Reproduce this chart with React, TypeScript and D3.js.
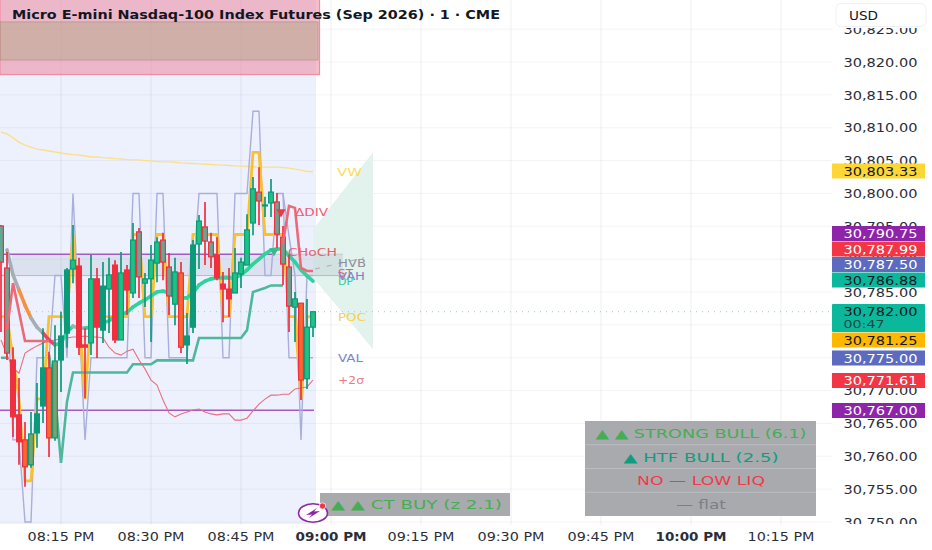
import React, { useEffect, useRef } from 'react';
import * as d3 from 'd3';

const width = 932;
const height = 550;
const FONT = '"DejaVu Sans", sans-serif';

// one bar per minute, first one at 08:05 PM
const firstBar = new Date(2026, 5, 1, 20, 5);
const axisStart = new Date(2026, 5, 1, 20, 15);
const axisEnd = new Date(2026, 5, 1, 22, 15);

const opens = [30795.05,30788.65,30774.65,30766.3,30762.5,30758.7,30763.55,30767.65,30773.45,30762.8,30774.65,30778.75,30788.5,30788.95,30776.95,30777.25,30787.0,30779.2,30785.45,30789.1,30777.7,30788.35,30784.85,30794.15,30786.35,30787.0,30789.4,30792.9,30788.8,30783.15,30787.9,30776.95,30779.65,30792.3,30794.9,30792.6,30790.65,30786.2,30785.45,30784.85,30787.75,30789.1,30795.5,30800.2,30798.1,30798.55,30798.7,30793.35,30788.8,30782.7,30783.3,30771.8,30779.65];
const highs = [30795.2,30791.1,30776.6,30771.9,30765.2,30766.75,30771.15,30779.5,30775.9,30779.95,30782.0,30788.65,30795.2,30790.2,30779.5,30790.65,30788.65,30789.55,30790.2,30789.85,30791.1,30789.1,30795.5,30794.75,30787.9,30792.15,30793.35,30794.0,30790.95,30790.2,30789.55,30781.8,30792.9,30796.7,30798.7,30794.0,30793.35,30788.05,30788.65,30791.7,30790.2,30796.85,30802.5,30804.0,30799.5,30802.2,30800.05,30795.05,30790.65,30785.0,30783.3,30783.95,30782.0];
const lows = [30778.9,30774.65,30762.95,30758.7,30755.35,30758.25,30761.3,30765.05,30759.9,30762.35,30769.8,30776.5,30786.35,30775.4,30768.85,30775.4,30774.95,30777.25,30778.75,30777.25,30777.7,30781.5,30784.1,30784.1,30782.7,30777.4,30786.5,30786.8,30781.5,30779.95,30775.7,30774.05,30778.75,30788.5,30789.1,30788.65,30786.8,30780.4,30781.2,30784.85,30785.6,30789.1,30793.65,30795.2,30796.4,30796.4,30791.7,30786.05,30778.9,30777.4,30768.55,30770.25,30778.15];
const closes = [30789.55,30775.7,30766.0,30762.2,30758.4,30763.4,30766.45,30773.45,30762.8,30774.5,30778.3,30788.35,30789.85,30776.6,30776.6,30787.0,30779.65,30785.9,30787.6,30777.7,30787.9,30785.3,30792.9,30787.3,30787.0,30789.85,30792.6,30789.55,30784.4,30788.05,30776.6,30778.3,30792.15,30795.8,30792.75,30790.35,30787.15,30785.45,30783.95,30787.9,30789.55,30794.45,30800.7,30798.85,30798.25,30800.2,30793.8,30789.25,30782.85,30783.95,30771.6,30779.65,30782.0];
// candle look per bar, overlapping studies tint many of them in the source
const barTones = ['mixed','mixed','bear','bear','orange','olive','bull','bull','orange','olive','bull','bull','lime','bear','bear','lime','bear','bull','lime','bear','lime','bear','lime','mixed','lime','lime','lime','mixed','mixed','lime','orange','bull','bull','lime','mixed','mixed','bear','bear','bear','lime','lime','lime','lime','mixed','lime','lime','mixed','mixed','mixed','lime','orange','lime','lime'];

const profileTrace = [30787.5,30787.5,30762.5,30762.5,30750,30750,30775,30775,30775,30787.5,30787.5,30775,30800,30781.25,30762.5,30775,30775,30775,30775,30775,30775,30775,30800,30800,30775,30775,30800,30800,30775,30775,30775,30775,30787.5,30800,30800,30800,30800,30775,30775,30800,30800,30800,30812.5,30812.5,30787.5,30787.5,30800,30800,30775,30775,30775,30775,30775];
const upperTail = [30800,30793.5,30787.5,30762.5,30787.5,30787.5];
const pocTrace = [30781.25,30781.25,30775,30768.75,30756.25,30756.25,30768.75,30768.75,30781.25,30781.25,30781.25,30781.25,30793.75,30781.25,30768.75,30781.25,30781.25,30781.25,30781.25,30781.25,30781.25,30781.25,30793.75,30793.75,30781.25,30781.25,30793.75,30793.75,30781.25,30781.25,30781.25,30781.25,30793.75,30793.75,30793.75,30793.75,30793.75,30781.25,30781.25,30793.75,30793.75,30793.75,30806.25,30806.25,30793.75,30793.75,30793.75,30793.75,30781.25,30781.25,30768.75,30781.25,30781.25];
const htfStep = [30775,30775,null,null,null,null,null,null,30775.5,30769.5,30759,30768.3,30772.75,30772.75,30772.75,30772.75,30772.75,30772.75,30772.75,30772.75,30772.75,30772.75,30774,30774,30774,30774,30774.6,30774.6,30774.6,30774.6,30774.6,30774.6,30774.6,30778,30778,30778,30778,30778,30778,30778,30778,30779.2,30785,30785.3,30785.6,30786,30786,30786,null,null,null,null,null];
const maTrace = [null,30791.4,30787.6,30785.3,30783.0,30781.05,30779.65,30778.75,30777.7,30776.95,30777.25,30778.9,30779.8,30779.5,30779.5,30779.65,30780.4,30780.3,30780.6,30781.35,30781.5,30781.95,30782.7,30783.3,30783.8,30784.4,30785,30785.15,30784.85,30784.1,30784.1,30784.1,30784.85,30786.05,30786.65,30787,30787.15,30787.15,30787.15,30787.15,30787.6,30788.35,30789.25,30790,30790.8,30791.4,30791.55,30791.55,30790.5,30789.55,30788.35,30787.45,30786.65];
const maRegime = ['flat','flat','flat','flat','warm','warm','flat','flat','hot','hot','up','up','up','flat','flat','up','up','up','up','up','up','up','up','up','up','up','up','up','up','up','up','up','up','up','up','up','up','up','up','up','up','up','up','up','up','up','up','up','up','up','up','up','up'];
const stTrace = [null,30779.2,30786.35,30782,30777.55,30777.55,30777.55,30777.55,30777.55,null,null,null,null,null,null,null,null,null,null,null,null,null,null,null,null,null,null,null,null,null,null,null,null,null,null,null,null,null,null,null,null,null,null,null,null,null,null,30792.45,30798.1,30797.8,30788.65,30788.2,30788.2];
const sigmaTrace = [30777.7,30775.4,30773.45,30772.65,30775.7,30776.3,30776.8,30777.25,30777.55,30777.7,30777.85,30778,30778.15,30778.15,30778.3,30778.15,30778.15,30778,30776.6,30775.7,30775.4,30776,30776.3,30774.65,30773.3,30771.6,30770.85,30768.55,30766.6,30766,30766.45,30766.75,30767.05,30767.2,30766.75,30766.45,30766.3,30766.45,30766.45,30765.5,30765.5,30765.8,30766.9,30767.95,30768.7,30769.3,30769.3,30769.45,30769.45,30770.25,30770.4,30770.55,30771.61];
const vwapTrace = [30809.35,30809.05,30808.45,30807.8,30807.35,30807.05,30806.75,30806.6,30806.45,30806.3,30806.15,30806,30805.9,30805.85,30805.7,30805.55,30805.55,30805.45,30805.4,30805.3,30805.25,30805.15,30805.1,30805.1,30805,30804.95,30804.85,30804.8,30804.8,30804.75,30804.65,30804.6,30804.55,30804.5,30804.45,30804.4,30804.35,30804.3,30804.25,30804.2,30804.15,30804.1,30804.05,30804,30804,30804,30804,30803.95,30803.85,30803.7,30803.55,30803.33,30803.33];

const priceTicks = d3.range(30750, 30830, 5);
const priceTags = [
  { value: 30803.33, fill: '#fdd835', color: '#131722', center: 171 },
  { value: 30790.75, fill: '#8e24aa', color: '#ffffff', center: 233.5 },
  { value: 30787.99, fill: '#f23645', color: '#ffffff', center: 249 },
  { value: 30787.5, fill: '#5c6bc0', color: '#ffffff', center: 264.5 },
  { value: 30786.88, fill: '#0bb89c', color: '#131722', center: 280 },
  { value: 30781.25, fill: '#ffb800', color: '#131722', center: 340 },
  { value: 30775, fill: '#5c6bc0', color: '#ffffff', center: 358 },
  { value: 30771.61, fill: '#f23645', color: '#ffffff', center: 380.5 },
  { value: 30767, fill: '#8e24aa', color: '#ffffff', center: 410.5 },
];
const lastPrice = 30782;
const countdown = '00:47';
const purpleLevels = [30790.75, 30767];

const studyLabels = [
  { text: 'VW', x: 337, y: 172, w: 25, color: '#fbdc5c' },
  { text: 'ΔDIV', x: 295, y: 212, w: 33, color: '#e8606f' },
  { text: 'CHoCH', x: 288, y: 252, w: 49, color: '#e8606f' },
  { text: 'HVB', x: 338, y: 263, w: 28, color: '#8c8f9a' },
  { text: 'ST', x: 338, y: 273, w: 15, color: '#e8606f' },
  { text: 'VAH', x: 338, y: 276, w: 27, color: '#7a84c8' },
  { text: 'DP', x: 338, y: 281, w: 15, color: '#3cc8a0' },
  { text: 'POC', x: 338, y: 317, w: 28, color: '#fbcf4a' },
  { text: 'VAL', x: 338, y: 358, w: 25, color: '#7a84c8' },
  { text: '+2σ', x: 338, y: 380, w: 26, color: '#ea7d88' },
];

const signalRows = [
  { text: '▲ ▲ STRONG BULL (6.1)', color: '#46ad55', w: 211 },
  { text: '▲ HTF BULL (2.5)', color: '#0f9d80', w: 155 },
  { text: 'NO — LOW LIQ', color: '#ef3a4c', w: 128 },
  { text: '— flat', color: '#7c7f88', w: 50 },
];
const ctRow = '▲ ▲ CT BUY (z 2.1)';

const toneStyle: Record<string, { fill: string; stroke: string }> = {
  bull: { fill: '#0b9a7a', stroke: '#0b9a7a' },
  lime: { fill: '#1fc284', stroke: '#0b9a7a' },
  bear: { fill: '#f0303f', stroke: '#f0303f' },
  orange: { fill: '#f36a30', stroke: '#f0303f' },
  olive: { fill: '#7fa06a', stroke: '#0b9a7a' },
  mixed: { fill: '#5fa996', stroke: '#f0303f' },
};
const regimeColor: Record<string, string> = {
  flat: '#a7adb5',
  warm: '#f5923e',
  hot: '#e8436a',
  up: '#2ed39b',
};

const TradingChart: React.FC = () => {
  const svgRef = useRef<SVGSVGElement>(null);

  useEffect(() => {
    if (!svgRef.current) return;
    const svg = d3.select(svgRef.current);
    svg.selectAll('*').remove();

    const x = d3.scaleTime().domain([axisStart, axisEnd]).range([61, 781]);
    const y = d3.scaleLinear().domain([30820, 30750]).range([62, 522]);
    const barTime = (i: number) => d3.timeMinute.offset(firstBar, i);
    const xi = (i: number) => x(barTime(i));
    const bars = d3.range(opens.length);
    const chartRight = 832;
    const chartBottom = 525;

    const lineOf = (vals: (number | null)[], startIdx = 0) =>
      d3.line<number | null>()
        .defined(d => d != null)
        .x((_, i) => xi(i + startIdx))
        .y(d => y(d as number))(vals);

    const defs = svg.append('defs');
    defs.append('clipPath').attr('id', 'priceClip').append('rect')
      .attr('x', 832).attr('y', 28).attr('width', 100).attr('height', 496);

    svg.append('rect').attr('width', width).attr('height', height).attr('fill', '#ffffff');

    // session shading sits under the grid
    svg.append('rect').attr('x', 0).attr('y', 0).attr('width', 316).attr('height', chartBottom - 1).attr('fill', '#edf1fd');

    // grid
    const gridColor = 'rgba(60,70,110,0.06)';
    x.ticks(d3.timeMinute.every(15) as d3.TimeInterval).forEach(t => {
      svg.append('line').attr('x1', x(t)).attr('x2', x(t)).attr('y1', 0).attr('y2', chartBottom)
        .attr('stroke', gridColor).attr('stroke-width', 1.5);
    });
    priceTicks.forEach(p => {
      svg.append('line').attr('x1', 0).attr('x2', chartRight).attr('y1', y(p)).attr('y2', y(p))
        .attr('stroke', gridColor).attr('stroke-width', 1);
    });

    // supply box at the top
    svg.append('rect').attr('x', 0).attr('y', -2).attr('width', 319.5).attr('height', 76.5)
      .attr('fill', 'rgba(238,130,155,0.52)').attr('stroke', '#f08ca2').attr('stroke-width', 1.2);
    svg.append('rect').attr('x', 0).attr('y', y(30826.1)).attr('width', 318).attr('height', y(30820.3) - y(30826.1))
      .attr('fill', 'rgba(170,165,125,0.42)').attr('stroke', 'rgba(150,120,110,0.6)').attr('stroke-width', 0.7);

    // forecast cone
    const coneStart = new Date(2026, 5, 1, 20, 57);
    const coneEnd = new Date(2026, 5, 1, 21, 7);
    svg.append('polygon')
      .attr('points', [
        [x(coneStart), y(30794.5)], [x(coneEnd), y(30806.25)], [x(coneEnd), y(30776.3)], [x(coneStart), y(30787.2)],
      ].map(p => p.join(',')).join(' '))
      .attr('fill', '#e2f2ed');

    // liquidity zone + levels
    svg.append('rect').attr('x', 12).attr('y', y(30790.75)).attr('width', 331).attr('height', y(30787.5) - y(30790.75))
      .attr('fill', 'rgba(110,125,150,0.13)');
    svg.append('line').attr('x1', 12).attr('x2', 343).attr('y1', y(30787.5)).attr('y2', y(30787.5))
      .attr('stroke', '#b4b8d8').attr('stroke-width', 1);
    svg.append('line').attr('x1', 0).attr('x2', 275).attr('y1', y(purpleLevels[0])).attr('y2', y(purpleLevels[0]))
      .attr('stroke', '#a55abf').attr('stroke-width', 1.4);
    svg.append('line').attr('x1', 275).attr('x2', 343).attr('y1', y(purpleLevels[0])).attr('y2', y(purpleLevels[0]))
      .attr('stroke', '#c6c8d2').attr('stroke-width', 1);
    svg.append('line').attr('x1', 0).attr('x2', 314).attr('y1', y(purpleLevels[1])).attr('y2', y(purpleLevels[1]))
      .attr('stroke', '#a55abf').attr('stroke-width', 1.4);
    svg.append('line').attr('x1', 315).attr('x2', 364).attr('y1', y(30788.5)).attr('y2', y(30790.2))
      .attr('stroke', '#a8acb4').attr('stroke-width', 1).attr('stroke-dasharray', '5,7');

    // last price
    svg.append('line').attr('x1', 0).attr('x2', chartRight).attr('y1', y(lastPrice)).attr('y2', y(lastPrice))
      .attr('stroke', '#8fd3c4').attr('stroke-width', 1).attr('stroke-dasharray', '1,5');

    // study lines below candles
    svg.append('path').attr('d', lineOf(vwapTrace)).attr('fill', 'none').attr('stroke', '#fbe08a').attr('stroke-width', 1.4);
    svg.append('path').attr('d', lineOf(profileTrace)).attr('fill', 'none').attr('stroke', '#a9aedb').attr('stroke-width', 1.4);
    svg.append('path').attr('d', lineOf(upperTail, 47)).attr('fill', 'none').attr('stroke', '#a9aedb').attr('stroke-width', 1.4);
    svg.append('path').attr('d', lineOf(pocTrace)).attr('fill', 'none').attr('stroke', '#fbc02d').attr('stroke-width', 2.8);
    svg.append('path').attr('d', lineOf(htfStep)).attr('fill', 'none').attr('stroke', '#4eb79c').attr('stroke-width', 2.6);
    svg.append('path').attr('d', lineOf(sigmaTrace)).attr('fill', 'none').attr('stroke', '#e8707f').attr('stroke-width', 1.1);

    bars.slice(1).forEach(i => {
      if (maTrace[i - 1] == null || maTrace[i] == null) return;
      svg.append('line')
        .attr('x1', xi(i - 1)).attr('x2', xi(i)).attr('y1', y(maTrace[i - 1] as number)).attr('y2', y(maTrace[i] as number))
        .attr('stroke', regimeColor[maRegime[i]]).attr('stroke-width', 3.6).attr('stroke-linecap', 'round');
    });

    // candles
    const bodyW = 4.8;
    bars.forEach(i => {
      const tone = toneStyle[barTones[i]];
      const wickColor = closes[i] >= opens[i] ? '#0b9a7a' : '#f0303f';
      const top = y(Math.max(opens[i], closes[i]));
      const bottom = y(Math.min(opens[i], closes[i]));
      svg.append('line').attr('x1', xi(i)).attr('x2', xi(i)).attr('y1', y(highs[i])).attr('y2', y(lows[i]))
        .attr('stroke', wickColor).attr('stroke-width', 1.7);
      svg.append('rect').attr('x', xi(i) - bodyW / 2).attr('y', top).attr('width', bodyW)
        .attr('height', Math.max(bottom - top, 1)).attr('fill', tone.fill).attr('stroke', tone.stroke).attr('stroke-width', 1.2);
    });

    svg.append('path').attr('d', lineOf(stTrace)).attr('fill', 'none').attr('stroke', '#ea6a78').attr('stroke-width', 2.6);

    // signal markers
    const markerTri = d3.symbol().type(d3.symbolTriangle).size(38);
    svg.append('path').attr('d', markerTri()).attr('transform', `translate(281,212) rotate(180)`).attr('fill', '#f23645');
    svg.append('path').attr('d', markerTri()).attr('transform', `translate(274,251) rotate(180)`).attr('fill', '#3fb68b');

    const addText = (txt: string, tx: number, ty: number, w: number, size: number, color: string, anchor = 'start', bold = false) =>
      svg.append('text').attr('x', tx).attr('y', ty).attr('dy', '0.36em')
        .attr('font-family', FONT).attr('font-size', size).attr('fill', color)
        .attr('font-weight', bold ? 700 : 400).attr('text-anchor', anchor)
        .attr('textLength', w).attr('lengthAdjust', 'spacingAndGlyphs').text(txt);

    studyLabels.forEach(l => addText(l.text, l.x, l.y, l.w, 11, l.color));

    // status tables
    svg.append('rect').attr('x', 320).attr('y', 493).attr('width', 190).attr('height', 23).attr('fill', '#a8aaad');
    addText(ctRow, 331, 504.5, 171, 12.5, '#46ad55');

    const tableTop = 421;
    const rowH = 23.75;
    svg.append('rect').attr('x', 585).attr('y', tableTop).attr('width', 231).attr('height', rowH * 4).attr('fill', '#a8aaad');
    signalRows.forEach((r, i) => {
      if (i > 0) {
        svg.append('line').attr('x1', 585).attr('x2', 816).attr('y1', tableTop + rowH * i).attr('y2', tableTop + rowH * i)
          .attr('stroke', '#bcbdc0').attr('stroke-width', 1);
      }
      addText(r.text, 701, tableTop + rowH * i + rowH / 2 + 0.5, r.w, 12.5, r.color, 'middle');
    });

    // logo badge
    const logo = svg.append('g').attr('transform', 'translate(313,513)');
    logo.append('ellipse').attr('rx', 14.5).attr('ry', 9.2).attr('fill', '#ffffff').attr('stroke', '#8e24aa').attr('stroke-width', 1.6);
    logo.append('path').attr('d', 'M4,-5 L-7,2 L-1,1.5 L-4,5 L7,-2 L1,-1.5 Z').attr('fill', '#8e24aa');
    logo.append('circle').attr('cx', 9.5).attr('cy', -7).attr('r', 3.2).attr('fill', '#f23645').attr('stroke', '#ffffff').attr('stroke-width', 0.8);

    // title
    addText('Micro E-mini Nasdaq-100 Index Futures (Sep 2026) · 1 · CME', 12, 14.5, 488, 12.5, '#131722', 'start', true);

    // price axis
    svg.append('rect').attr('x', chartRight).attr('y', 0).attr('width', 100).attr('height', height).attr('fill', '#ffffff');
    const tickLayer = svg.append('g').attr('clip-path', 'url(#priceClip)');
    priceTicks.forEach(p => {
      tickLayer.append('text').attr('x', 843.5).attr('y', y(p)).attr('dy', '0.36em')
        .attr('font-family', FONT).attr('font-size', 13).attr('fill', '#2a2e39')
        .attr('textLength', 74).attr('lengthAdjust', 'spacingAndGlyphs').text(d3.format(',.2f')(p));
    });

    const fmt = d3.format(',.2f');
    priceTags.forEach(t => {
      svg.append('rect').attr('x', 832).attr('y', t.center - 7.5).attr('width', 93).attr('height', 15).attr('fill', t.fill);
      addText(fmt(t.value), 843.5, t.center, 74, 12.5, t.color);
    });
    svg.append('rect').attr('x', 832).attr('y', 304).attr('width', 93).attr('height', 28).attr('rx', 1).attr('fill', '#0bb89c');
    addText(fmt(lastPrice), 843.5, 311, 74, 12.5, '#131722');
    addText(countdown, 843.5, 324.5, 41, 11, '#1c4a44');

    // currency button
    svg.append('rect').attr('x', 836).attr('y', 3.5).attr('width', 90).attr('height', 23).attr('rx', 5)
      .attr('fill', '#ffffff').attr('stroke', '#f0f1f4');
    addText('USD', 849, 15, 29, 12.5, '#131722');

    // time axis
    const timeFmt = d3.timeFormat('%I:%M %p');
    x.ticks(d3.timeMinute.every(15) as d3.TimeInterval).forEach(t => {
      const hourMark = t.getMinutes() === 0;
      addText(timeFmt(t), x(t), 536, hourMark ? 71 : 67, 12.5, '#2a2e39', 'middle', hourMark);
    });
  }, []);

  return <svg ref={svgRef} width={width} height={height} style={{ position: 'absolute', left: 0, top: 0 }} />;
};

export default function App() {
  return <TradingChart />;
}
